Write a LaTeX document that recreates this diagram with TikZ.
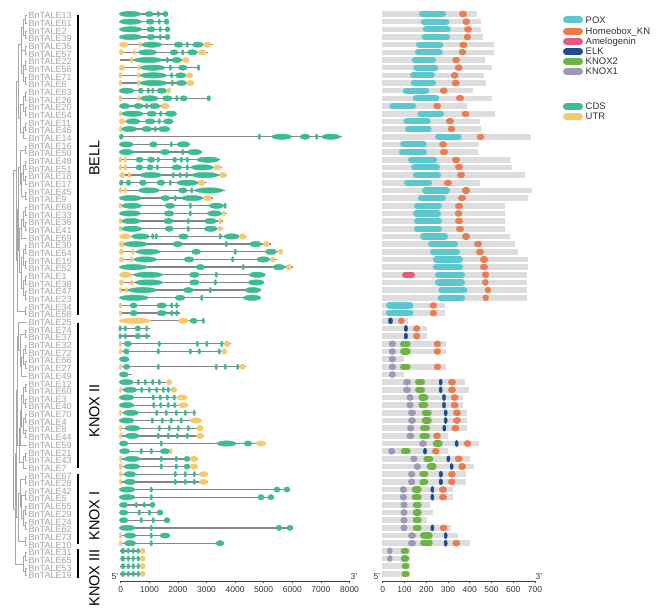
\documentclass[tikz,border=0pt]{standalone}
\usepackage{fontspec}
\setmainfont{Liberation Sans}
\definecolor{cdsc}{HTML}{3DBB93}
\definecolor{utrc}{HTML}{F8C96B}
\definecolor{poxc}{HTML}{5CC7CF}
\definecolor{hknc}{HTML}{EE7B50}
\definecolor{amec}{HTML}{E65A80}
\definecolor{elkc}{HTML}{1C4E8E}
\definecolor{kntwoc}{HTML}{6CB443}
\definecolor{knonec}{HTML}{9D98B6}
\definecolor{barc}{HTML}{DDDDDD}
\definecolor{intc}{HTML}{858585}
\definecolor{labc}{HTML}{A3A3A3}
\definecolor{treec}{HTML}{A8A8A8}
\tikzset{
 lab/.style={font=\fontsize{9}{9.2}\selectfont, text=labc, anchor=west, inner sep=0pt},
 grp/.style={font=\fontsize{14.5}{16}\selectfont, rotate=90, inner sep=0pt},
 ticklab/.style={font=\fontsize{8.5}{9}\selectfont, inner sep=0pt, text=black!80},
 endlab/.style={font=\fontsize{8.5}{9}\selectfont, inner sep=0pt, text=black!80},
 leg/.style={font=\fontsize{9.5}{10}\selectfont, anchor=west, inner sep=0pt, text=black!80},
 intron/.style={draw=intc, line width=1.3pt},
 tree/.style={draw=treec, line width=0.7pt},
 grpbar/.style={line width=2.6pt, draw=black},
 axisl/.style={draw=black!75, line width=0.6pt},
 cds/.style={fill=cdsc, draw=cdsc},
 utr/.style={fill=utrc, draw=utrc},
 pox/.style={draw=poxc, fill=poxc},
 hkn/.style={draw=hknc, fill=hknc},
 ame/.style={draw=amec, fill=amec},
 elk/.style={draw=elkc, fill=elkc},
 kntwo/.style={draw=kntwoc, fill=kntwoc},
 knone/.style={draw=knonec, fill=knonec},
}
% gene structure row: row, line end, segments a/b/style
\newcommand\gn[3]{%
  \pgfmathsetmacro\yy{14+7.67*#1}%
  \draw[intron] (119.5,\yy) -- (#2,\yy);%
  \foreach \a/\b/\t in {#3}{%
    \pgfmathsetmacro\rr{max((\b-\a)/2,1.3)}%
    \pgfmathsetmacro\cc{(\a+\b)/2}%
    \fill[\t] (\cc,\yy) ellipse [x radius=\rr pt, y radius=2.7pt];}%
}
% domain row: row, bar end, domains a/b/style
\newcommand\dm[3]{%
  \pgfmathsetmacro\yy{14+7.67*#1}%
  \fill[barc] (381.7,{\yy-2.8}) rectangle (#2,{\yy+2.8});%
  \foreach \a/\b/\t in {#3}{%
    \pgfmathsetmacro\cc{(\a+\b)/2}%
    \pgfmathtruncatemacro\sm{(\b-\a)<7.5}%
    \ifnum\sm=1
      \pgfmathsetmacro\rr{(\b-\a)/2}%
      \fill[\t] (\cc,\yy) ellipse [x radius=\rr pt, y radius=3.1pt];%
    \else
      \pgfmathsetmacro\hw{(\b-\a)/2-3.1}%
      \draw[\t, line width=6.2pt, line cap=round] ({\cc-\hw},\yy) -- ({\cc+\hw},\yy);%
    \fi}%
}
% tree clade: x, row a, row b, child x a, child x b
\newcommand\cl[5]{%
  \draw[tree] (#4,{15.7+7.67*#2}) -- (#1,{15.7+7.67*#2}) -- (#1,{15.7+7.67*#3}) -- (#5,{15.7+7.67*#3});%
}
\begin{document}
\begin{tikzpicture}[x=1pt,y=-1pt]
\useasboundingbox (0,0) rectangle (669,612);
\fill[white] (0,0) rectangle (669,612);
% ---------- tree ----------
\cl{25}{0}{1}{27}{27}\cl{25}{2}{3}{27}{27}\cl{23}{0.5}{2.5}{25}{25}
\cl{25}{4}{5}{27}{27}\cl{25}{6}{7}{27}{27}\cl{25}{8}{9}{27}{27}
\cl{23}{6.5}{8.5}{25}{25}\cl{21.5}{4.5}{7.5}{25}{23}
\cl{25}{10}{11}{27}{27}\cl{25}{12}{13}{27}{27}\cl{23}{10.5}{12.5}{25}{25}
\cl{25}{14}{15}{27}{27}\cl{23}{14.5}{16}{25}{27}
\cl{25}{17}{18}{27}{27}\cl{25}{19}{20}{27}{27}\cl{25}{21}{22}{27}{27}\cl{25}{23}{24}{27}{27}
\cl{23}{19.5}{21.5}{25}{25}\cl{21.5}{20.5}{23.5}{23}{25}\cl{20.5}{17.5}{22}{25}{21.5}
\cl{25}{25}{26}{27}{27}\cl{25}{27}{28}{27}{27}\cl{23}{25.5}{27.5}{25}{25}\cl{21.5}{26.5}{29}{23}{27}
\cl{25}{30}{31}{27}{27}\cl{25}{32}{33}{27}{27}\cl{23}{30.5}{32.5}{25}{25}
\cl{25}{34}{35}{27}{27}\cl{25}{36}{37}{27}{27}\cl{23}{34.5}{36.5}{25}{25}
\cl{21.5}{31.5}{35.5}{23}{23}\cl{19.5}{27.75}{33.5}{21.5}{21.5}
\cl{25}{38}{39}{27}{27}
\cl{21.5}{1.5}{6}{23}{21.5}\cl{20.5}{11.5}{15.25}{23}{23}
\cl{18.5}{3.75}{13.4}{21.5}{20.5}\cl{18}{19.75}{30.6}{20.5}{19.5}
\cl{17}{25.2}{38.5}{18}{25}\cl{16}{8.6}{31.9}{18.5}{17}
\cl{25}{41}{42}{27}{27}\cl{25}{43}{44}{27}{27}\cl{25}{45}{46}{27}{27}
\cl{23}{43.5}{45.5}{25}{25}\cl{21.5}{44.5}{47}{23}{27}\cl{20}{41.5}{45.75}{25}{21.5}
\cl{18.5}{40}{43.6}{27}{20}
\cl{25}{48}{49}{27}{27}\cl{25}{50}{51}{27}{27}\cl{25}{52}{53}{27}{27}\cl{25}{54}{55}{27}{27}
\cl{23}{48.5}{50.5}{25}{25}\cl{23}{52.5}{54.5}{25}{25}\cl{21.5}{49.5}{53.5}{23}{23}
\cl{20}{51.5}{56}{21.5}{27}\cl{25}{57}{58}{27}{27}\cl{23}{57.5}{59}{25}{27}
\cl{19}{53.75}{58.25}{20}{23}\cl{17.5}{41.8}{56}{18.5}{19}
\cl{25}{60}{61}{27}{27}\cl{25}{62}{63}{27}{27}\cl{25}{64}{65}{27}{27}\cl{25}{66}{67}{27}{27}
\cl{23}{64.5}{66.5}{25}{25}\cl{21.5}{62.5}{65.5}{25}{23}\cl{20}{60.5}{64}{25}{21.5}
\cl{25}{68}{69}{27}{27}\cl{18.5}{62.25}{68.5}{20}{25}\cl{16.5}{48.9}{65.4}{17.5}{18.5}
\cl{25}{70}{71}{27}{27}\cl{25}{72}{73}{27}{27}\cl{23}{70.5}{72.5}{25}{25}
\cl{15}{57.1}{71.5}{16.5}{23}\cl{13.5}{20.2}{64.3}{16}{15}
% ---------- labels ----------
\foreach \n [count=\i from 0] in {13,61,2,39,35,57,22,56,71,6,63,26,20,54,11,46,14,16,50,48,51,18,17,45,9,68,33,36,41,69,30,64,15,52,1,38,47,23,34,58,25,74,37,32,72,66,27,49,12,60,3,40,70,4,8,44,59,21,43,7,67,28,42,5,55,29,24,62,73,10,31,65,53,19}
  \node[lab] (lab\i) at (28.5,{15.7+7.67*\i}) {BnTALE\n};
% ---------- group bars ----------
\draw[grpbar] (78,15) -- (78,315);
\draw[grpbar] (78,323) -- (78,468);
\draw[grpbar] (78,474) -- (78,544);
\draw[grpbar] (78,549) -- (78,578);
\node[grp] (gbell) at (94.5,158) {BELL};
\node[grp] (gknoxii) at (94.5,411) {KNOX II};
\node[grp] (gknoxi) at (94.5,516) {KNOX I};
\node[grp] (gknoxiii) at (94.5,578) {KNOX III};
% ---------- gene structures ----------
\gn{0}{168}{119.3/140.7/cds, 145/153.3/cds, 157/159.5/cds, 162.7/168/cds}
\gn{1}{169}{119.3/141.7/cds, 146/154.3/cds, 158/160.5/cds, 164/169/cds}
\gn{2}{170}{119.3/142/cds, 146.7/155/cds, 159/161.5/cds, 165/170/cds}
\gn{3}{170}{119.3/142/cds, 146.7/155/cds, 159/161.5/cds, 165/170/cds}
\gn{4}{212.7}{119.3/128/utr, 139/141.5/utr, 141.7/161.7/cds, 174/183.3/cds, 186/188.5/cds, 192.3/203.3/cds, 204/211/utr}
\gn{5}{207.7}{119.3/123.3/utr, 133/135.5/utr, 138.3/156.7/cds, 170/178/cds, 181.5/184/cds, 187.3/197.3/cds, 198.3/206/utr}
\gn{6}{189}{130.5/133/utr, 134/162.3/cds, 166/168.5/cds, 171.7/181.7/cds, 182.3/189/utr}
\gn{7}{200}{119.3/125/utr, 138/140.5/utr, 140.5/165/cds, 169/171.5/cds, 178.3/187.3/cds, 197/200/cds}
\gn{8}{193}{119.3/121.5/utr, 137.5/140/utr, 140/166.7/cds, 170.5/173/cds, 175.3/186/cds, 186/192.7/utr}
\gn{9}{194}{119.3/121.5/utr, 137.5/140/utr, 140/167.3/cds, 171/173.5/cds, 176/186.7/cds, 186.7/194/utr}
\gn{10}{171}{119.3/134/cds, 138.3/143.3/cds, 147/149.5/cds, 151.5/154/cds, 156.7/166.7/cds, 166.7/170.7/utr}
\gn{11}{210}{119.3/121.5/utr, 138/140.5/utr, 140.7/158.3/cds, 162.3/172.3/cds, 175.5/178/cds, 180/187.3/cds, 207/210.5/cds}
\gn{12}{169.3}{119.3/130/cds, 133.3/143.3/cds, 145.5/148/cds, 149.3/160/cds, 160.7/169.3/utr}
\gn{13}{176.7}{119.3/121.5/utr, 121.7/143.3/cds, 146.7/156.7/cds, 159.5/162/cds, 165/176.7/cds}
\gn{14}{173.3}{119.3/125/utr, 126/140/cds, 145/155/cds, 158/160.5/cds, 163.3/173.3/cds}
\gn{15}{170}{119.3/121.5/utr, 121.7/136.7/cds, 141.7/151.7/cds, 154/156.5/cds, 158.3/170/cds}
\gn{16}{341.7}{119.3/123.3/cds, 258/260.5/cds, 271.7/291.7/cds, 300/310/cds, 315.5/318/cds, 321.7/340/cds}
\gn{17}{190}{119.3/133.3/cds, 149.3/157.3/cds, 170/172.5/cds, 176.7/190/cds}
\gn{18}{201.7}{119.3/133.3/cds, 160/170/cds, 181.5/184/cds, 187.3/201.7/cds}
\gn{19}{220}{119.3/121.7/utr, 124/126.5/utr, 136/143.3/cds, 147.3/155/cds, 157/159.5/cds, 172.7/176.7/cds, 180/182.5/cds, 186/188.5/cds, 196.7/219.3/cds}
\gn{20}{222}{119.3/121.7/utr, 124/126.5/utr, 136/142.7/cds, 146.7/153.3/cds, 156/158.5/cds, 171.7/181.7/cds, 186/188.5/cds, 191/213.3/cds, 214/220.7/utr}
\gn{21}{227.3}{119.3/125/utr, 128/130.5/utr, 140/161.7/cds, 172/174.5/cds, 179/181.5/cds, 185.5/188/cds, 191.7/218.3/cds, 219.3/226.7/utr}
\gn{22}{206.7}{119.3/123.3/cds, 126/131/cds, 139.3/146.7/cds, 156.7/165/cds, 169/171.5/cds, 176.7/198.3/cds, 198.3/205/utr}
\gn{23}{225}{119.3/121.7/utr, 124/126.5/utr, 138.3/159.3/cds, 178.3/187.3/cds, 190.5/193/cds, 195/223.3/cds}
\gn{24}{212.7}{119.3/141.7/cds, 160.7/170/cds, 174/176.5/cds, 181.7/202.7/cds, 203.3/211.7/utr}
\gn{25}{226}{119.3/121.5/utr, 121.7/141.7/cds, 165/175/cds, 189/191.5/cds, 209.3/223.3/cds, 224/226/cds}
\gn{26}{226.7}{119.3/140.7/cds, 164/174/cds, 189/191.5/cds, 207.3/221.7/cds, 222.7/225/utr}
\gn{27}{223.3}{119.3/121.5/utr, 121.7/140.7/cds, 163.3/173.3/cds, 187/189.5/cds, 204/216.7/cds, 218.3/221.7/utr}
\gn{28}{223.3}{119.3/121.5/utr, 121.7/141.7/cds, 165/173.3/cds, 187/189.5/cds, 204/217.3/cds, 218.3/221.7/utr}
\gn{29}{246.7}{119.3/130.7/utr, 131.7/149.3/cds, 151.5/154/cds, 155/157.5/cds, 178.3/188.3/cds, 219/221.5/cds, 224/239.3/cds, 239.3/246/utr}
\gn{30}{270.7}{119.3/121.7/utr, 122.5/124/utr, 124/147.3/cds, 172.7/182.7/cds, 225/227.5/cds, 249.3/261.7/cds, 263.3/269.3/utr}
\gn{31}{283.3}{119.3/123.3/utr, 131.5/134/utr, 136/160/cds, 191.7/200.7/cds, 234/236.5/cds, 265/276.7/cds, 278.3/282.7/utr}
\gn{32}{276.7}{119.3/124/utr, 130.5/133/utr, 134/156.7/cds, 184/194/cds, 231.5/234/cds, 256.7/270/cds, 270.7/275/utr}
\gn{33}{292.7}{119.3/147.3/cds, 196/205/cds, 242/244.5/cds, 272.7/285/cds, 286/291.7/utr}
\gn{34}{266}{119.3/131.7/utr, 134/162.7/cds, 189.3/199.3/cds, 215/217.5/cds, 249.3/265/cds}
\gn{35}{264}{119.3/123.3/utr, 130.5/133/utr, 135/162.7/cds, 189.3/199.3/cds, 214/216.5/cds, 248.3/264/cds}
\gn{36}{260.7}{119.3/121.7/utr, 125/127.5/utr, 128.3/156.7/cds, 183.3/193.3/cds, 209/211.5/cds, 245/260.7/cds}
\gn{37}{260.7}{119.3/148.3/cds, 175/185/cds, 200.5/203/cds, 243.3/260.7/cds}
\gn{38}{180}{119.3/121.7/utr, 130/137.3/cds, 156.7/166.7/cds, 170.5/173/cds, 175.5/178/cds}
\gn{39}{180}{119.3/121.7/utr, 130/137.3/cds, 156.7/166.7/cds, 170.5/173/cds, 175.5/178/cds}
\gn{40}{205}{119.3/150.7/utr, 178.3/188.3/utr, 190/197.3/cds, 202/204.5/cds}
\gn{41}{150}{119.3/121/cds, 124/126.5/cds, 135/140.7/cds, 145.5/148/cds}
\gn{42}{150}{119.3/121/cds, 124/126.5/cds, 135/140.7/cds, 145.5/148/cds}
\gn{43}{230.7}{119.3/121.7/utr, 124/131.7/cds, 158/160.5/cds, 196/198.5/cds, 205.5/208/cds, 220.5/223/cds, 224.3/230/utr}
\gn{44}{226.7}{119.3/121.7/utr, 123.3/129.3/cds, 157/159.5/cds, 189/191.5/cds, 198/200.5/cds, 218/220.5/cds, 221.7/226.7/utr}
\gn{45}{129.3}{119.3/129.3/cds}
\gn{46}{245.5}{119.3/121.7/utr, 123.3/130/cds, 157/159.5/cds, 215/217.5/cds, 224/226.5/cds, 236.5/239/cds, 240/245/utr}
\gn{47}{131.7}{119.3/128.3/cds}
\gn{48}{171.7}{119.3/133.3/cds, 137/139.5/cds, 144/146.5/cds, 151.5/154/cds, 158/160.5/cds, 166.7/171.7/utr}
\gn{49}{176.7}{119.3/121.7/utr, 123.3/136.7/cds, 140.5/143/cds, 148/150.5/cds, 155.5/158/cds, 162/164.5/cds, 167/169.5/cds, 171/176.7/utr}
\gn{50}{187.3}{119.3/134/cds, 152/154.5/cds, 159/161.5/cds, 166/168.5/cds, 173/175.5/cds, 176.7/187.3/utr}
\gn{51}{188.3}{119.3/134/cds, 152.5/155/cds, 159.5/162/cds, 167/169.5/cds, 173.5/176/cds, 178.3/188.3/utr}
\gn{52}{195}{119.3/121.7/utr, 123.3/138.3/cds, 155.5/158/cds, 165/167.5/cds, 175/177.5/cds, 184/186.5/cds, 193/195.5/cds}
\gn{53}{201.7}{119.3/134/cds, 151/153.5/cds, 161/163.5/cds, 170/172.5/cds, 180/182.5/cds, 190/201.7/utr}
\gn{54}{203.3}{119.3/121.7/utr, 125/140/cds, 158/160.5/cds, 168/170.5/cds, 177/179.5/cds, 187/189.5/cds, 196.7/203.3/utr}
\gn{55}{204}{119.3/121.7/utr, 125/139/cds, 157/159.5/cds, 167/169.5/cds, 176/178.5/cds, 186/188.5/cds, 196/204/utr}
\gn{56}{266}{119.3/128/cds, 160/162.5/cds, 217/236/cds, 244/252/cds, 256/266/utr}
\gn{57}{172}{119.3/130/cds, 140/142.5/cds, 150/152.5/cds, 160/170/cds, 170/172/utr}
\gn{58}{198}{119.3/121.7/utr, 124/140/cds, 160/162.5/cds, 175/177.5/cds, 184/190/cds, 190/198/utr}
\gn{59}{198}{119.3/121.7/utr, 124/140/cds, 160/162.5/cds, 175/177.5/cds, 184/190/cds, 190/198/utr}
\gn{60}{208}{119.3/121.7/utr, 124/136/cds, 174/176.5/cds, 184/186.5/cds, 193/195.5/cds, 199/208/utr}
\gn{61}{208}{119.3/121.7/utr, 124/136/cds, 174/176.5/cds, 184/186.5/cds, 193/195.5/cds, 199/208/utr}
\gn{62}{290}{119.3/135/cds, 150/152.5/cds, 274/280/cds, 284/290/cds}
\gn{63}{274}{119.3/135/cds, 150/152.5/cds, 258/264/cds, 268/274/cds}
\gn{64}{155}{119.3/128/cds, 135/137.5/cds, 143/145.5/cds, 150/155/cds}
\gn{65}{163}{119.3/128/cds, 138/140.5/cds, 148/150.5/cds, 157/163/cds}
\gn{66}{170}{119.3/128/cds, 140/142.5/cds, 152/154.5/cds, 164/170/cds}
\gn{67}{293}{119.3/135/cds, 150/152.5/cds, 276/282/cds, 287/293/cds}
\gn{68}{170}{119.3/121.7/utr, 124/136/cds, 150/152.5/cds, 160/170/cds}
\gn{69}{224}{119.3/121.7/utr, 124/136/cds, 150/152.5/cds, 216/224/cds}
\gn{70}{145}{120.7/125/cds, 127/129.5/cds, 132/134.5/cds, 137/139.5/cds, 140/145/utr}
\gn{71}{145}{120.7/125/cds, 127/129.5/cds, 132/134.5/cds, 137/139.5/cds, 140/145/utr}
\gn{72}{145}{120.7/125/cds, 127/129.5/cds, 132/134.5/cds, 137/139.5/cds, 140/145/utr}
\gn{73}{145}{120.7/125/cds, 127/129.5/cds, 132/134.5/cds, 137/139.5/cds, 140/145/utr}
% ---------- domains ----------
\dm{0}{477.3}{419/446/pox, 459.3/466.7/hkn}
\dm{1}{480.7}{420.7/449.3/pox, 462.7/470/hkn}
\dm{2}{481.3}{422.7/450.7/pox, 464.3/471.7/hkn}
\dm{3}{482.7}{421.7/450/pox, 464/470.7/hkn}
\dm{4}{494.3}{416/443.3/pox, 459.3/467.3/hkn}
\dm{5}{494}{415/442.7/pox, 458.7/466.3/hkn}
\dm{6}{485}{411.7/436/pox, 452.3/460/hkn}
\dm{7}{491.7}{413.3/438.3/pox, 455/462.3/hkn}
\dm{8}{484.3}{410/435/pox, 451/458.3/hkn}
\dm{9}{486}{410.7/436/pox, 452/459.3/hkn}
\dm{10}{472.7}{402.7/429.3/pox, 440/447.3/hkn}
\dm{11}{492.3}{412.7/439.3/pox, 456/464/hkn}
\dm{12}{466.7}{389.3/416/pox, 433.3/441/hkn}
\dm{13}{495}{417.3/444/pox, 461.7/469.3/hkn}
\dm{14}{480}{403.3/430.7/pox, 446/454/hkn}
\dm{15}{480.7}{405/431.7/pox, 447.7/455.3/hkn}
\dm{16}{531}{435/461.7/pox, 476.7/484.3/hkn}
\dm{17}{479.3}{400/426.7/pox, 439.3/446.7/hkn}
\dm{18}{478}{399/427/pox, 440/448/hkn}
\dm{19}{510}{408/437/pox, 452/460/hkn}
\dm{20}{512}{411/440/pox, 455/463/hkn}
\dm{21}{525}{413/441/pox, 457/465/hkn}
\dm{22}{480}{404/432/pox, 444/452/hkn}
\dm{23}{532}{422/450/pox, 462/470/hkn}
\dm{24}{528}{418/446/pox, 458/466/hkn}
\dm{25}{505}{414/442/pox, 455/463/hkn}
\dm{26}{505}{413/441/pox, 455/462/hkn}
\dm{27}{505}{414/442/pox, 455/463/hkn}
\dm{28}{505}{414/442/pox, 456/464/hkn}
\dm{29}{510}{420/448/pox, 462/470/hkn}
\dm{30}{515}{428/458/pox, 474/482/hkn}
\dm{31}{518}{430/460/pox, 476/484/hkn}
\dm{32}{528}{433/463/pox, 480/488/hkn}
\dm{33}{528}{433/463/pox, 480/488/hkn}
\dm{34}{527}{402/415/ame, 435/465/pox, 482/489/hkn}
\dm{35}{527.3}{435/465/pox, 482.3/488.3/hkn}
\dm{36}{527.3}{438.3/467.3/pox, 485/490.7/hkn}
\dm{37}{527.3}{437.7/465/pox, 482.7/488.7/hkn}
\dm{38}{445}{386/413.3/pox, 430/436.7/hkn}
\dm{39}{445}{386/413.3/pox, 430/436.7/hkn}
\dm{40}{408.3}{388.3/392.7/elk, 398.3/404.3/hkn}
\dm{41}{426.7}{404/407.7/elk, 413.3/420/hkn}
\dm{42}{426.7}{404/407.7/elk, 413.3/420/hkn}
\dm{43}{446}{389/395.7/knone, 400/410.7/kntwo, 434/440.7/hkn}
\dm{44}{446}{389/395.7/knone, 400/410.7/kntwo, 434/440.7/hkn}
\dm{45}{404}{389/395.7/knone}
\dm{46}{446}{389/395.7/knone, 400/410.7/kntwo, 434/440.7/hkn}
\dm{47}{404}{389/395.7/knone}
\dm{48}{465}{403.3/410.7/knone, 415/425/kntwo, 439/442.3/elk, 448.3/455.7/hkn}
\dm{49}{469.3}{403.3/410.7/knone, 415/425/kntwo, 439/442.3/elk, 448.3/455.7/hkn}
\dm{50}{463.3}{406.7/413.3/knone, 418.3/428.3/kntwo, 442.3/445.7/elk, 451/458.3/hkn}
\dm{51}{463.3}{406.7/413.3/knone, 418.3/428.3/kntwo, 442.3/445.7/elk, 451/458.3/hkn}
\dm{52}{467.3}{408.3/415.7/knone, 421.7/431.7/kntwo, 444/447.3/elk, 453.3/460.7/hkn}
\dm{53}{467.3}{408.3/415.7/knone, 421.7/431.7/kntwo, 444/447.3/elk, 453.3/460.7/hkn}
\dm{54}{466.7}{407.3/414/knone, 420/430/kntwo, 442.7/446/elk, 451.7/459/hkn}
\dm{55}{447.7}{406.7/414/knone, 419.3/430/kntwo, 433.3/440.7/hkn}
\dm{56}{478.7}{419.3/426.7/knone, 432.7/442.7/kntwo, 455/458.3/elk, 464/471/hkn}
\dm{57}{447.7}{388.3/395/knone, 400.7/410.7/kntwo, 423.3/426.7/elk, 432.3/439.3/hkn}
\dm{58}{470}{410.7/417.3/knone, 423.3/433.3/kntwo, 446.7/450/elk, 455/462.3/hkn}
\dm{59}{474}{414/420.7/knone, 426.7/436.7/kntwo, 450/453.3/elk, 458.3/466/hkn}
\dm{60}{465.7}{408.3/415/knone, 419.3/428.3/kntwo, 439/442.7/elk, 448.3/455.3/hkn}
\dm{61}{465.7}{408.3/415/knone, 419.3/428.3/kntwo, 439/442.7/elk, 448.3/455.3/hkn}
\dm{62}{453.3}{400/406.7/knone, 411.7/421.7/kntwo, 430.7/434/elk, 439.3/446.7/hkn}
\dm{63}{453.3}{400/406.7/knone, 411.7/421.7/kntwo, 430.7/434/elk, 439.3/446.7/hkn}
\dm{64}{430}{400.7/407.3/knone, 412.7/421.7/kntwo}
\dm{65}{433.3}{400.7/407.3/knone, 412.7/421.7/kntwo}
\dm{66}{427.3}{400.7/407.3/knone, 412.7/421.7/kntwo}
\dm{67}{450.7}{400.7/407.3/knone, 412.7/421.7/kntwo, 430.7/434/elk, 440/447.3/hkn}
\dm{68}{458.3}{408.3/415.7/knone, 420/432.7/kntwo, 444/447.3/elk}
\dm{69}{470}{408.3/415.7/knone, 420/432.7/kntwo, 444/447.3/elk, 452.7/460/hkn}
\dm{70}{410}{387.3/392.3/knone, 400.7/409/kntwo}
\dm{71}{410}{387.3/392.3/knone, 400.7/409/kntwo}
\dm{72}{410}{401.7/409.3/kntwo}
\dm{73}{410}{401.5/409.5/kntwo}
% ---------- axes ----------
\draw[axisl] (120.7,581) -- (349.5,581);
\foreach \v [count=\k from 0] in {0,1000,2000,3000,4000,5000,6000,7000,8000}{
  \draw[axisl] ({120.7+28.6*\k},581) -- ({120.7+28.6*\k},583);
  \node[ticklab] (gt\k) at ({120.7+28.6*\k},589.5) {\v};}
\node[endlab] (g5) at (115,576.5) {5'};
\node[endlab] (g3) at (354,576.5) {3'};
\draw[axisl] (382.7,581) -- (535,581);
\foreach \v [count=\k from 0] in {0,100,200,300,400,500,600,700}{
  \draw[axisl] ({382.7+21.76*\k},581) -- ({382.7+21.76*\k},583);
  \node[ticklab] (dt\k) at ({382.7+21.76*\k},589.5) {\v};}
\node[endlab] (d5) at (377,576.5) {5'};
\node[endlab] (d3) at (539,576.5) {3'};
% ---------- legend ----------
\foreach \st/\tx/\yl [count=\i] in {pox/POX/20, hkn/Homeobox\_KN/31.7, ame/Amelogenin/41.7, elk/ELK/51.7, kntwo/KNOX2/61.7, knone/KNOX1/71.7, cds/CDS/106.7, utr/UTR/116.7}{
  \draw[\st, line width=7pt, line cap=round] (566.5,\yl) -- (579.5,\yl);
  \node[leg] (leg\i) at (585.5,\yl) {\tx};}
\end{tikzpicture}
\end{document}
